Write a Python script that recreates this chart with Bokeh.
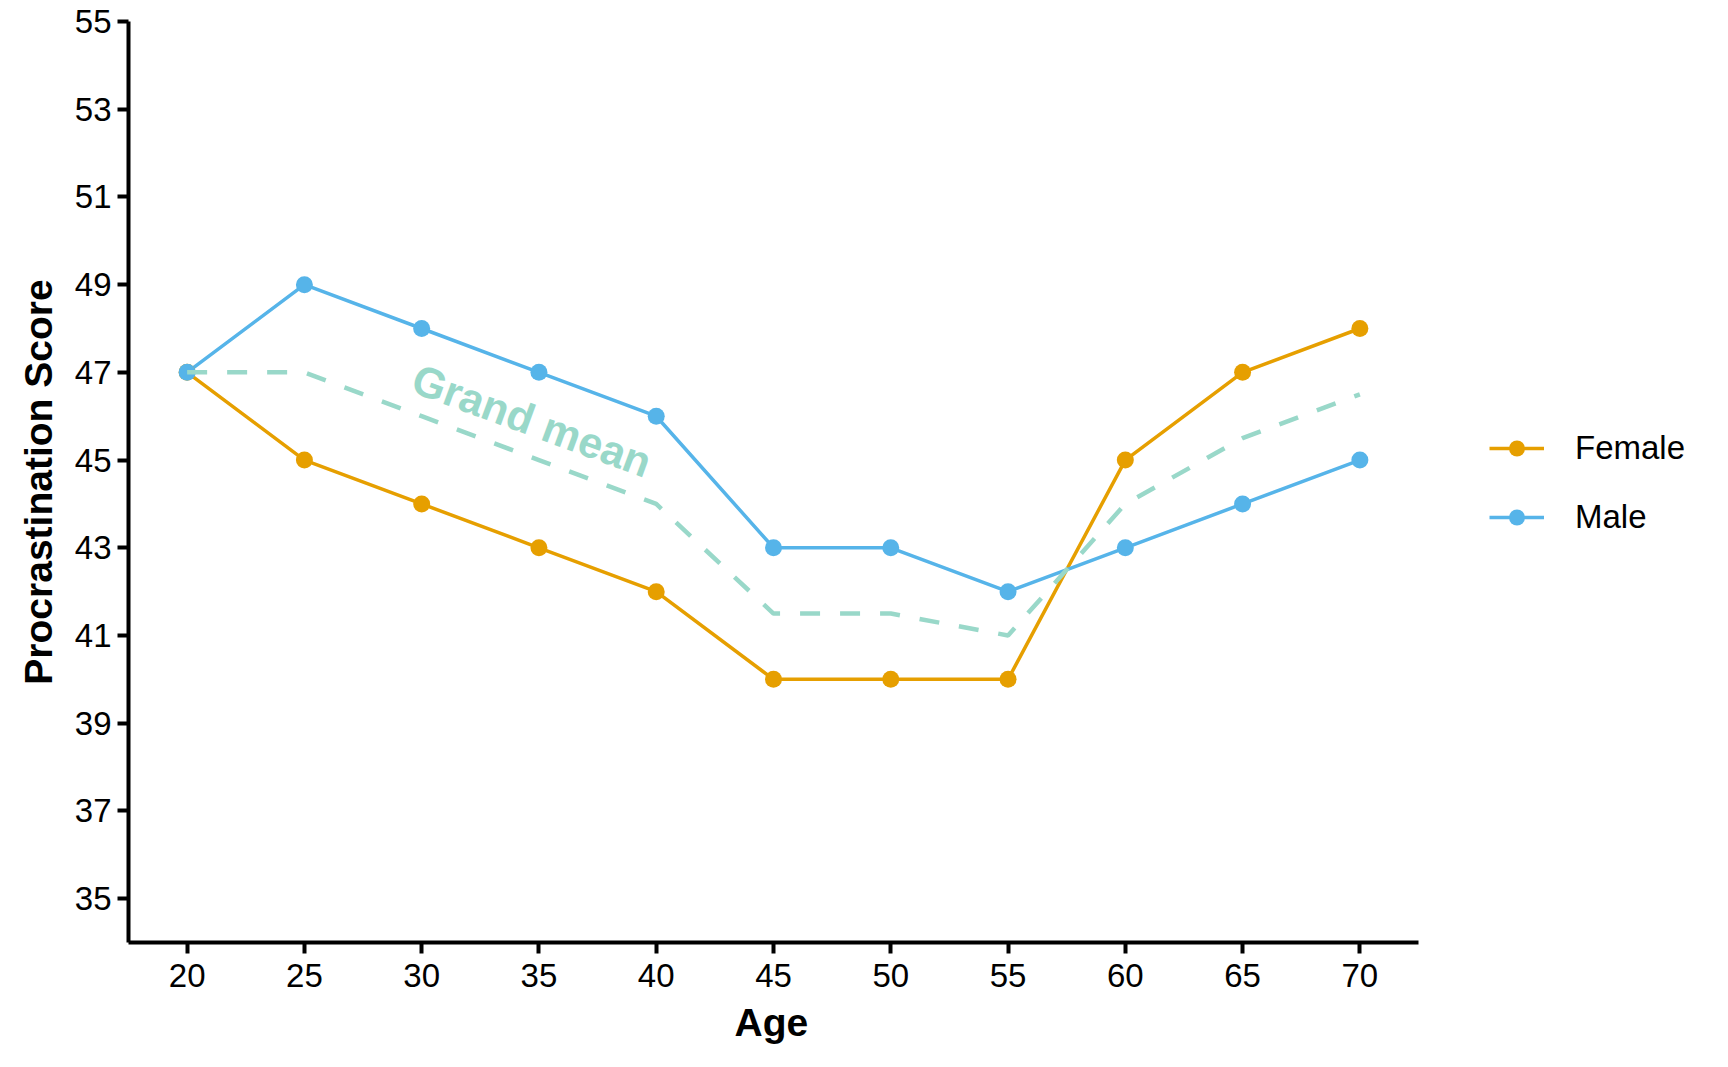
from bokeh.plotting import figure
from bokeh.models import Range1d, FixedTicker, Legend, LegendItem, Label, Title
from bokeh.embed import file_html
from bokeh.resources import INLINE

ages = [20, 25, 30, 35, 40, 45, 50, 55, 60, 65, 70]
female = [47, 45, 44, 43, 42, 40, 40, 40, 45, 47, 48]
male = [47, 49, 48, 47, 46, 43, 43, 42, 43, 44, 45]
grand_mean = [47, 47, 46, 45, 44, 41.5, 41.5, 41, 44, 45.5, 46.5]
y_ticks = [35, 37, 39, 41, 43, 45, 47, 49, 51, 53, 55]

ORANGE = "#E69F00"
BLUE = "#56B4E9"
TEAL = "#99D8C9"
FONT = "Liberation Sans"

# visible axis span and an extended frame so the legend can live inside it
X0, X1 = 17.5, 72.5
AXIS_W = 1290
FRAME_W = 1580
x_end = X0 + (X1 - X0) * FRAME_W / AXIS_W

p = figure(frame_width=FRAME_W, frame_height=921,
           x_range=Range1d(X0, x_end), y_range=Range1d(34, 55),
           output_backend="svg", toolbar_location=None,
           min_border_left=128, min_border_top=21,
           min_border_right=10, min_border_bottom=110)

p.outline_line_color = None
p.xgrid.visible = False
p.ygrid.visible = False
p.background_fill_color = "white"
p.border_fill_color = "white"

lf = p.line(ages, female, line_color=ORANGE, line_width=3.5)
lm = p.line(ages, male, line_color=BLUE, line_width=3.5)
sf = p.scatter(ages, female, size=17, fill_color=ORANGE, line_color=None)
sm = p.scatter(ages, male, size=17, fill_color=BLUE, line_color=None)
p.line(ages, grand_mean, line_color=TEAL, line_width=4.5, line_dash="20 20")

p.add_layout(Label(x=34.7, y=45.9, text="Grand mean", angle=-20.2, angle_units="deg",
                   text_align="center", text_baseline="middle",
                   text_font=FONT, text_font_size="43px", text_font_style="bold",
                   text_color=TEAL))

p.xaxis.ticker = FixedTicker(ticks=ages)
p.yaxis.ticker = FixedTicker(ticks=y_ticks)
p.xaxis.bounds = (X0, X1)
p.yaxis.axis_label = "Procrastination Score"

for ax in (p.xaxis, p.yaxis):
    ax.axis_line_width = 4
    ax.axis_line_color = "black"
    ax.major_tick_line_width = 4
    ax.major_tick_line_color = "black"
    ax.major_tick_out = 11
    ax.major_tick_in = 0
    ax.minor_tick_out = 0
    ax.minor_tick_in = 0
    ax.major_label_text_font = FONT
    ax.major_label_text_font_size = "33px"
    ax.major_label_text_color = "black"
    ax.axis_label_text_font = FONT
    ax.axis_label_text_font_size = "39px"
    ax.axis_label_text_font_style = "bold"
    ax.axis_label_text_color = "black"

p.xaxis.major_label_standoff = 10
p.yaxis.major_label_standoff = 6
p.yaxis.axis_label_standoff = 12

# x-axis title, centred under the visible axis span
age_title = Title(text="Age", align="left", offset=606, standoff=18,
                  text_font=FONT, text_font_size="39px", text_font_style="bold",
                  text_color="black")
p.add_layout(age_title, "below")

legend = Legend(items=[LegendItem(label="Female", renderers=[lf, sf]),
                       LegendItem(label="Male", renderers=[lm, sm])],
                location=(1361, 405))
legend.border_line_color = None
legend.background_fill_alpha = 0
legend.padding = 0
legend.margin = 0
legend.glyph_width = 55
legend.glyph_height = 40
legend.label_height = 40
legend.spacing = 29
legend.label_standoff = 31
legend.label_text_font = FONT
legend.label_text_font_size = "33px"
legend.label_text_color = "black"
p.add_layout(legend)

open("out.html", "w").write(file_html(p, INLINE))
